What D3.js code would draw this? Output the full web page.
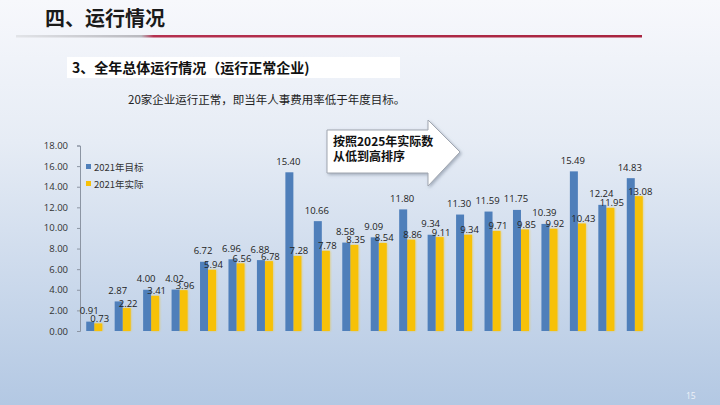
<!DOCTYPE html>
<html>
<head>
<meta charset="utf-8">
<script src="https://cdn.jsdelivr.net/npm/d3@7"></script>
<style>
  html, body { margin: 0; padding: 0; overflow: hidden; }
  svg { display: block; }
</style>
</head>
<body>
<div id="chart"></div>
<script>
'use strict';

// 20 enterprises, sorted by actual value
const companies = d3.range(1, 21).map(function (i) { return '企业' + i; });
const target2021 = [0.91, 2.87, 4.00, 4.02, 6.72, 6.96, 6.88, 15.40, 10.66, 8.58,
    9.09, 11.80, 9.34, 11.30, 11.59, 11.75, 10.39, 15.49, 12.24, 14.83];
const actual2021 = [0.73, 2.22, 3.41, 3.96, 5.94, 6.56, 6.78, 7.28, 7.78, 8.35,
    8.54, 8.86, 9.11, 9.34, 9.71, 9.85, 9.92, 10.43, 11.95, 13.08];
const seriesNames = ['2021年目标', '2021年实际'];
const yTicks = [0, 2, 4, 6, 8, 10, 12, 14, 16, 18];

const width = 720;
const height = 405;
const colours = { target: '#4f7fba', actual: '#f7c108' };
const cjk = '"Noto Sans CJK SC", "Noto Sans", sans-serif';

const svg = d3.select('#chart')
    .append('svg')
    .attr('width', width)
    .attr('height', height);

const defs = svg.append('defs');

const bg = defs.append('linearGradient')
    .attr('id', 'bg')
    .attr('x1', 0).attr('y1', 0)
    .attr('x2', 0).attr('y2', 1);
bg.append('stop').attr('offset', '0%').attr('stop-color', '#f7f8fc');
bg.append('stop').attr('offset', '35%').attr('stop-color', '#e6ecf5');
bg.append('stop').attr('offset', '100%').attr('stop-color', '#b3c8e3');

const rule = defs.append('linearGradient')
    .attr('id', 'rule')
    .attr('x1', 0).attr('x2', 1);
rule.append('stop').attr('offset', '0%').attr('stop-color', '#e2e4e8');
rule.append('stop').attr('offset', '20%').attr('stop-color', '#b9b9bf');
rule.append('stop').attr('offset', '22%').attr('stop-color', '#b5304f');
rule.append('stop').attr('offset', '100%').attr('stop-color', '#a8243f');

const glow = defs.append('filter')
    .attr('id', 'glow')
    .attr('x', '-60%').attr('width', '220%')
    .attr('y', '-10%').attr('height', '120%');
glow.append('feGaussianBlur').attr('stdDeviation', 0.8);

const shadow = defs.append('filter')
    .attr('id', 'shadow')
    .attr('x', '-10%').attr('width', '130%')
    .attr('y', '-10%').attr('height', '130%');
shadow.append('feDropShadow')
    .attr('dx', 1.5).attr('dy', 1.5)
    .attr('stdDeviation', 1.5)
    .attr('flood-color', '#7a8699')
    .attr('flood-opacity', 0.6);

svg.append('rect')
    .attr('width', width)
    .attr('height', height)
    .attr('fill', 'url(#bg)');

// slide header
svg.append('text')
    .attr('x', 45)
    .attr('y', 26)
    .attr('font-family', cjk)
    .attr('font-size', 20)
    .attr('font-weight', 700)
    .attr('fill', '#1a1a1a')
    .text('四、运行情况');

svg.append('rect')
    .attr('x', 16)
    .attr('y', 35)
    .attr('width', 626)
    .attr('height', 2.5)
    .attr('fill', 'url(#rule)');

svg.append('rect')
    .attr('x', 67)
    .attr('y', 57)
    .attr('width', 333)
    .attr('height', 21)
    .attr('fill', '#ffffff');

svg.append('text')
    .attr('x', 72)
    .attr('y', 73)
    .attr('font-family', cjk)
    .attr('font-size', 14)
    .attr('font-weight', 700)
    .attr('fill', '#111')
    .text('3、全年总体运行情况（运行正常企业)');

svg.append('text')
    .attr('x', 128)
    .attr('y', 104)
    .attr('font-family', cjk)
    .attr('font-size', 11.5)
    .attr('fill', '#222')
    .text('20家企业运行正常，即当年人事费用率低于年度目标。');

// chart area
const xScale = d3.scaleBand()
    .domain(companies)
    .range([80, 649]);

const inner = d3.scaleBand()
    .domain(seriesNames)
    .range([(xScale.bandwidth() - 16) / 2, (xScale.bandwidth() + 16) / 2]);

const yScale = d3.scaleLinear()
    .domain([0, 18])
    .range([331, 145.5]);

const yAxis = d3.axisLeft(yScale)
    .tickValues(yTicks)
    .tickFormat(d3.format('.2f'))
    .tickSize(3)
    .tickPadding(9);

const axisG = svg.append('g')
    .attr('transform', 'translate(80,0)')
    .call(yAxis);
axisG.select('.domain').attr('stroke', '#8c95a3');
axisG.selectAll('.tick line').attr('stroke', '#8c95a3');
axisG.selectAll('.tick text')
    .attr('font-family', '"Open Sans", sans-serif')
    .attr('font-size', 9.5)
    .attr('fill', '#333');

const rows = companies.map(function (c, i) {
    return { company: c, target: target2021[i], actual: actual2021[i] };
});

const groups = svg.append('g')
    .selectAll('g.group')
    .data(rows)
    .join('g')
    .attr('class', 'group')
    .attr('transform', function (d) {
        return `translate(${xScale(d.company)},0)`;
    });

groups.append('rect')
    .attr('x', inner(seriesNames[1]) - 0.5)
    .attr('width', inner.bandwidth() + 1)
    .attr('y', function (d) { return yScale(d.actual); })
    .attr('height', function (d) { return yScale(0) - yScale(d.actual); })
    .attr('fill', colours.actual)
    .attr('opacity', 0.55)
    .attr('filter', 'url(#glow)');

groups.append('rect')
    .attr('x', inner(seriesNames[1]))
    .attr('width', inner.bandwidth())
    .attr('y', function (d) { return yScale(d.actual); })
    .attr('height', function (d) { return yScale(0) - yScale(d.actual); })
    .attr('fill', colours.actual);

groups.append('rect')
    .attr('x', inner(seriesNames[0]))
    .attr('width', inner.bandwidth())
    .attr('y', function (d) { return yScale(d.target); })
    .attr('height', function (d) { return yScale(0) - yScale(d.target); })
    .attr('fill', colours.target);

groups.append('text')
    .attr('x', inner(seriesNames[0]) + inner.bandwidth() / 2 - 1)
    .attr('y', function (d) { return yScale(d.target) - 7.5; })
    .attr('text-anchor', 'middle')
    .attr('font-family', '"Open Sans", sans-serif')
    .attr('font-size', 9.5)
    .attr('fill', '#222')
    .text(function (d) { return d.target.toFixed(2); });

groups.append('text')
    .attr('x', inner(seriesNames[1]) + inner.bandwidth() / 2 + 1.5)
    .attr('y', function (d) { return yScale(d.actual) - 1.5; })
    .attr('text-anchor', 'middle')
    .attr('font-family', '"Open Sans", sans-serif')
    .attr('font-size', 9.5)
    .attr('fill', '#222')
    .text(function (d) { return d.actual.toFixed(2); });

// legend
const legend = svg.append('g')
    .selectAll('g.legend')
    .data(seriesNames)
    .join('g')
    .attr('class', 'legend')
    .attr('transform', function (d, i) {
        return `translate(86,${167 + i * 17})`;
    });

legend.append('rect')
    .attr('x', 0)
    .attr('y', -3)
    .attr('width', 5)
    .attr('height', 5)
    .attr('fill', function (d, i) { return i === 0 ? colours.target : colours.actual; });

legend.append('text')
    .attr('x', 8)
    .attr('y', 3.5)
    .attr('font-family', cjk)
    .attr('font-size', 9.5)
    .attr('fill', '#333')
    .text(function (d) { return d; });

// sorting note arrow
const arrow = svg.append('g');
arrow.append('path')
    .attr('d', 'M327,130 L428,130 L428,120 L460,152 L428,186 L428,173 L327,173 Z')
    .attr('fill', '#ffffff')
    .attr('stroke', '#a0a6b0')
    .attr('stroke-width', 1)
    .attr('filter', 'url(#shadow)');

arrow.append('text')
    .attr('x', 333)
    .attr('y', 146)
    .attr('font-family', cjk)
    .attr('font-size', 12)
    .attr('font-weight', 700)
    .attr('fill', '#111')
    .text('按照2025年实际数');

arrow.append('text')
    .attr('x', 333)
    .attr('y', 161)
    .attr('font-family', cjk)
    .attr('font-size', 12)
    .attr('font-weight', 700)
    .attr('fill', '#111')
    .text('从低到高排序');

// page number
svg.append('text')
    .attr('x', 686)
    .attr('y', 399)
    .attr('font-family', '"Open Sans", sans-serif')
    .attr('font-size', 8.5)
    .attr('fill', '#eef2f8')
    .text('15');
</script>
</body>
</html>
